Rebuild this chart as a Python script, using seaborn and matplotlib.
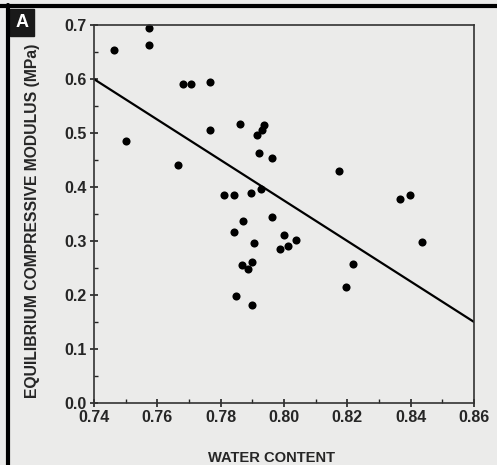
import numpy as np
import pandas as pd
import matplotlib.pyplot as plt
from matplotlib.lines import Line2D
from matplotlib.patches import Rectangle
from matplotlib.ticker import MultipleLocator, FormatStrFormatter
import seaborn as sns

# data
water = [0.7463, 0.7574, 0.7575, 0.7500, 0.7682, 0.7706, 0.7766, 0.7765, 0.7666,
         0.7861, 0.7914, 0.7929, 0.7936, 0.7922, 0.7962, 0.7812, 0.7842, 0.7895,
         0.7927, 0.8173, 0.8366, 0.8399, 0.7872, 0.7961, 0.7842, 0.7904, 0.8001,
         0.8038, 0.7987, 0.8012, 0.8434, 0.7868, 0.7898, 0.7886, 0.8218, 0.8197,
         0.7848, 0.7898]
modulus = [0.654, 0.695, 0.664, 0.486, 0.590, 0.591, 0.594, 0.506, 0.441,
           0.516, 0.496, 0.506, 0.515, 0.464, 0.454, 0.385, 0.386, 0.389,
           0.396, 0.429, 0.377, 0.385, 0.337, 0.344, 0.316, 0.296, 0.311,
           0.302, 0.285, 0.291, 0.298, 0.256, 0.262, 0.248, 0.258, 0.215,
           0.199, 0.181]
fit_x = [0.74, 0.86]
fit_y = [0.60, 0.15]

df = pd.DataFrame({"water": water, "modulus": modulus})
fit = pd.DataFrame({"water": fit_x, "modulus": fit_y})

sns.set_style("ticks")
plt.rcParams["font.family"] = ["Liberation Sans", "DejaVu Sans"]
plt.rcParams["font.weight"] = "bold"
bg = "#ebebea"

fig = plt.figure(figsize=(4.97, 4.65), dpi=100, facecolor=bg)
ax = fig.add_axes([0.189, 0.1333, 0.765, 0.8127])
ax.set_facecolor(bg)

sns.scatterplot(data=df, x="water", y="modulus", ax=ax, color="black",
                s=34, edgecolor="black", linewidth=0, clip_on=False)
sns.lineplot(data=fit, x="water", y="modulus", ax=ax, color="black", lw=1.6)

ax.set_xlim(0.74, 0.86)
ax.set_ylim(0.0, 0.7)
ax.xaxis.set_major_locator(MultipleLocator(0.02))
ax.xaxis.set_minor_locator(MultipleLocator(0.01))
ax.yaxis.set_major_locator(MultipleLocator(0.1))
ax.yaxis.set_minor_locator(MultipleLocator(0.05))
ax.xaxis.set_major_formatter(FormatStrFormatter("%.2f"))
ax.yaxis.set_major_formatter(FormatStrFormatter("%.1f"))
ax.tick_params(which="major", direction="inout", length=6, width=1.2,
               labelsize=11.5, color="#222222", pad=2)
ax.tick_params(which="minor", direction="in", length=3, width=1.0, color="#222222")
for lab in ax.get_xticklabels() + ax.get_yticklabels():
    lab.set_fontweight("bold")
for s in ax.spines.values():
    s.set_color("#333333")
    s.set_linewidth(1.2)

ax.set_xlabel("WATER CONTENT", fontsize=10.6, fontweight="bold")
ax.set_ylabel("EQUILIBRIUM COMPRESSIVE MODULUS (MPa)", fontsize=11.3,
              fontweight="bold")
ax.xaxis.set_label_coords(0.468, -0.127)
ax.yaxis.set_label_coords(-0.142, 0.481)

# page frame and panel letter
fig.add_artist(Line2D([0, 1], [0.988, 0.988], color="black", lw=3,
                      transform=fig.transFigure))
fig.add_artist(Line2D([0.017, 0.017], [0, 0.99], color="black", lw=3,
                      transform=fig.transFigure))
fig.add_artist(Rectangle((0.02, 0.923), 0.048, 0.058, color="#1a1a1a",
                         transform=fig.transFigure))
fig.text(0.044, 0.952, "A", color="white", fontsize=13, fontweight="bold",
         ha="center", va="center")

fig.savefig("out.png", dpi=100, facecolor=bg)
